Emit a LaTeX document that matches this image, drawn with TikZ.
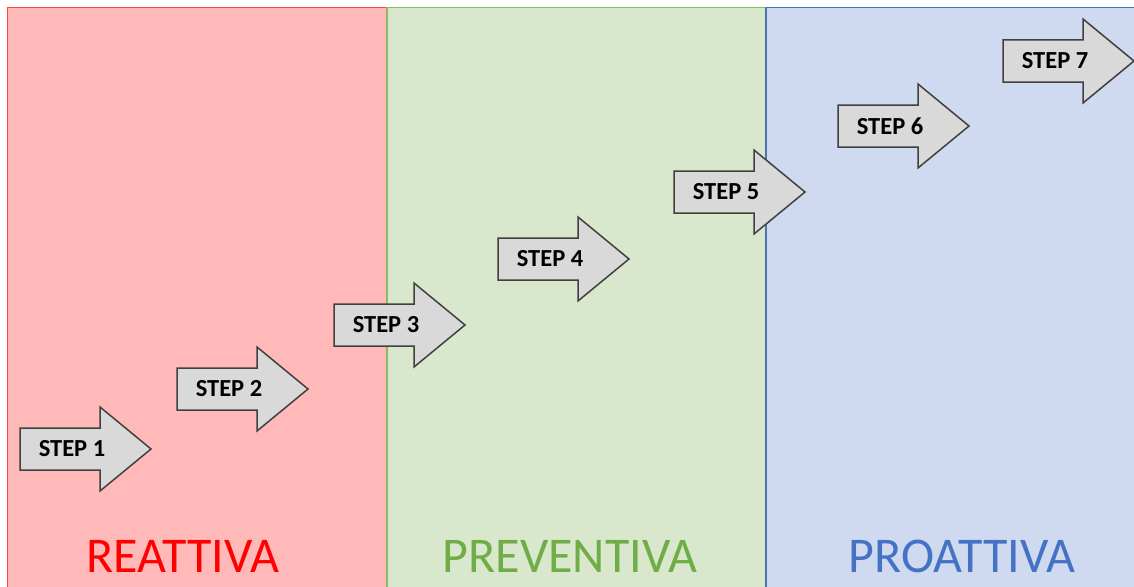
\documentclass[tikz,border=0pt]{standalone}
\usepackage{fontspec}
\setmainfont{Carlito}
\definecolor{redfill}{RGB}{255,185,185}
\definecolor{redline}{RGB}{255,70,70}
\definecolor{greenfill}{RGB}{217,232,205}
\definecolor{greenline}{RGB}{140,185,105}
\definecolor{bluefill}{RGB}{207,218,240}
\definecolor{blueline}{RGB}{80,115,180}
\definecolor{redtxt}{RGB}{255,0,0}
\definecolor{greentxt}{RGB}{112,173,71}
\definecolor{bluetxt}{RGB}{68,114,196}
\definecolor{arrfill}{RGB}{217,217,217}
\definecolor{arrline}{RGB}{64,64,64}
\tikzset{
  arrowshape/.style={draw=arrline, fill=arrfill, line width=1.5pt, line join=miter},
  steplabel/.style={font=\fontsize{24.5}{27}\selectfont\bfseries, text=black, inner sep=0pt},
  phaselabel/.style={font=\fontsize{50}{54}\selectfont, inner sep=0pt, anchor=base},
}
\newcommand\mystep[4]{%
  \draw[arrowshape] (#1,#2-21) -- (#1+80,#2-21) -- (#1+80,#2-42) -- (#1+131,#2)
     -- (#1+80,#2+42) -- (#1+80,#2+21) -- (#1,#2+21) -- cycle;
  \node[steplabel] (#4) at (#1+52,#2) {#3};
}
\begin{document}
\begin{tikzpicture}[x=1pt,y=-1pt]
\useasboundingbox (0,0) rectangle (1134,586);
\fill[white] (0,0) rectangle (1134,586);
\begin{scope}
\clip (0,0) rectangle (1134,586);
\draw[fill=redfill, draw=redline, line width=1.5pt] (7.5,7.5) rectangle (387,600);
\draw[fill=greenfill, draw=greenline, line width=1.5pt] (387,7.5) rectangle (766,600);
\draw[fill=bluefill, draw=blueline, line width=1.5pt] (766,7.5) rectangle (1150,600);
\end{scope}
\node[phaselabel, text=redtxt] (reattiva) at (183,572) {REATTIVA};
\node[phaselabel, text=greentxt] (preventiva) at (570,572) {PREVENTIVA};
\node[phaselabel, text=bluetxt] (proattiva) at (962,572) {PROATTIVA};
\mystep{20}{449}{STEP 1}{s1}
\mystep{177}{389}{STEP 2}{s2}
\mystep{334}{325}{STEP 3}{s3}
\mystep{498}{259}{STEP 4}{s4}
\mystep{674}{192}{STEP 5}{s5}
\mystep{838}{126}{STEP 6}{s6}
\mystep{1003}{61}{STEP 7}{s7}
\end{tikzpicture}
\end{document}
